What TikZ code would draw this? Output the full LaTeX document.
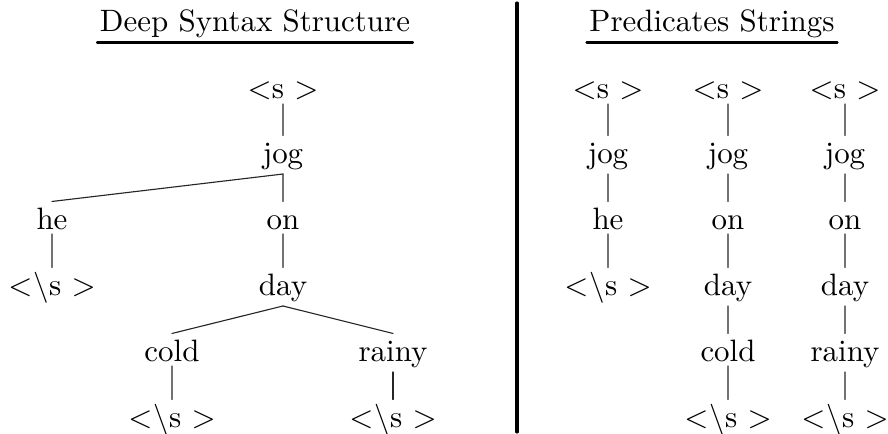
\documentclass[tikz,border=0pt]{standalone}
\usepackage{tikz}
\tikzset{
  every picture/.style={line join=round, line cap=round},
  big/.style={font=\fontsize{10}{12}\selectfont, scale=2.2, transform shape},
  word/.style={big, anchor=base, inner xsep=0pt, inner ysep=1.3pt, text height=7.4pt},
  heading/.style={big, anchor=base, inner xsep=0.7pt, inner ysep=0.8pt, text depth=2.7pt},
  branch/.style={line width=0.8pt, black!85},
}
\newcommand{\startsym}{$<$s $>$}
\newcommand{\stopsym}{$<$\kern0.4pt$\backslash$s $>$}

\begin{document}
\begin{tikzpicture}[x=0.025cm,y=-0.025cm]
\useasboundingbox(0,0) rectangle (888,434);
% headings
\node[heading](tleft) at (255,31){Deep Syntax Structure};
\node[heading](tright) at (712,31){Predicates Strings};
\draw[line width=2pt](tleft.south west)--(tleft.south east);
\draw[line width=2pt](tright.south west)--(tright.south east);
\draw[line width=2.2pt](517,3)--(517,432);
% deep syntax tree
\node[word](ls) at (283,98){\startsym};
\node[word](ljog) at (283,163){jog};
\node[word](lhe) at (52,229){he};
\node[word](lon) at (283,229){on};
\node[word](lhend) at (52,295){\stopsym};
\node[word](lday) at (283,295){day};
\node[word](lcold) at (172,361){cold};
\node[word](lrainy) at (393,361){rainy};
\node[word](lcend) at (172,427){\stopsym};
\node[word](lrend) at (393,427){\stopsym};
\draw[branch](ls)--(ljog);
\draw[branch](ljog.south)--(lhe.north);
\draw[branch](ljog)--(lon);
\draw[branch](lhe)--(lhend);
\draw[branch](lon)--(lday);
\draw[branch](lday.south)--(lcold.north);
\draw[branch](lday.south)--(lrainy.north);
\draw[branch](lcold)--(lcend);
\draw[branch](lrainy.south)--(lrend.north);
% predicate strings
\node[word](as) at (608,98){\startsym};
\node[word](ajog) at (608,163){jog};
\node[word](ahe) at (608,229){he};
\node[word](aend) at (608,295){\stopsym};
\node[word](bs) at (728,98){\startsym};
\node[word](bjog) at (728,163){jog};
\node[word](bon) at (728,229){on};
\node[word](bday) at (728,295){day};
\node[word](bcold) at (728,361){cold};
\node[word](bend) at (728,427){\stopsym};
\node[word](cs) at (845,98){\startsym};
\node[word](cjog) at (845,163){jog};
\node[word](con) at (845,229){on};
\node[word](cday) at (845,295){day};
\node[word](crainy) at (845,361){rainy};
\node[word](cend) at (845,427){\stopsym};
\draw[branch](as)--(ajog)--(ahe)--(aend);
\draw[branch](bs)--(bjog)--(bon)--(bday)--(bcold)--(bend);
\draw[branch](cs)--(cjog)--(con)--(cday)--(crainy)--(cend);
\end{tikzpicture}
\end{document}
